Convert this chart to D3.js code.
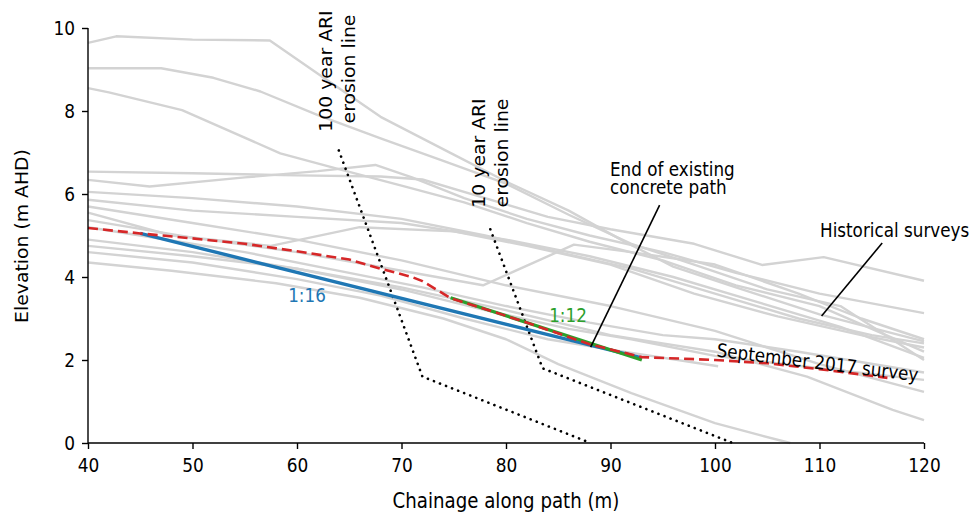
<!DOCTYPE html>
<html><head><meta charset="utf-8">
<script src="https://cdn.jsdelivr.net/npm/d3@7"></script>
<style>
body{margin:0;background:#fff;}
text{font-family:"DejaVu Sans",sans-serif;}
</style></head>
<body><svg id="c" width="971" height="512"></svg>
<script>
const xTicks=[40,50,60,70,80,90,100,110,120];
const yTicks=[0,2,4,6,8,10];
const historical=[
 [[40,9.64],[42.7,9.8],[50,9.72],[57.4,9.7],[62,8.9],[68,7.86],[75,6.95],[80,6.3],[86,5.6],[91,4.9],[96,4.25],[102,3.75],[110,3.1],[120,2.45]],
 [[40,9.03],[47,9.03],[52,8.8],[56.5,8.47],[62,7.9],[68,7.34],[74,6.8],[80,6.25],[86,5.5],[92,4.8],[98,4.3],[105,3.7],[112,3.3],[120,2.0]],
 [[40,8.55],[42,8.45],[49,8.02],[58.4,6.98],[64,6.6],[70,6.2],[76,5.8],[82,5.3],[88,4.85],[95,4.4],[102,3.8],[110,3.3],[120,2.2]],
 [[40,6.54],[50,6.5],[60,6.45],[68,6.42],[72,6.35],[78,5.9],[84,5.45],[90,5.15],[98,4.8],[104.5,4.29],[110.4,4.48],[120,3.91]],
 [[40,6.34],[45.9,6.18],[55,6.4],[62,6.55],[67.5,6.7],[71,6.4],[76,5.9],[82,5.4],[88,5.0],[95,4.6],[102,4.1],[110,3.6],[120,3.13]],
 [[40,6.05],[50,5.9],[60,5.7],[70,5.4],[78,5.0],[85,4.6],[92,4.2],[100,3.6],[108,3.0],[115,2.6],[120,2.4]],
 [[40,5.86],[50,5.6],[60,5.45],[70,5.3],[80,4.9],[88,4.5],[96,4.0],[104,3.4],[112,2.8],[120,2.05]],
 [[40,5.55],[48,5.0],[57.5,4.75],[66,5.2],[75,5.1],[82,4.75],[90,4.3],[98,3.6],[106,3.05],[114,2.6],[120,2.3]],
 [[40,5.37],[50,4.95],[60,4.6],[70,4.15],[77.8,3.8],[86.5,4.78],[92,4.6],[100,4.3],[108,3.6],[114,3.0],[120,2.5]],
 [[40,5.7],[50,5.3],[60,4.9],[70,4.4],[80,3.8],[90,3.3],[100,2.7],[110,1.9],[120,1.23]],
 [[40,5.2],[45,5.0],[55,4.6],[65,4.1],[72,3.75],[80,3.3],[88,2.9],[95,2.6],[100,2.5],[108,2.2],[120,1.7]],
 [[40,4.9],[50,4.6],[60,4.2],[70,3.7],[78,3.2],[86,2.75],[92,2.5],[100,2.1],[110,1.8],[120,1.52]],
 [[40,4.6],[50,4.35],[60,3.95],[68,3.55],[76,3.0],[84,2.5],[90,2.25],[100.3,1.85]],
 [[40,4.35],[48,4.15],[58,3.85],[66,3.5],[74,3.0],[80,2.5],[85,1.9],[92,1.2],[100,0.48],[104.3,0.19],[107.2,0]],
 [[40,4.75],[50,4.5],[60,4.2],[70,3.75],[80,3.2],[90,2.6],[100,2.2],[108.8,1.6],[117,0.8],[120,0.55]]
];
const survey2017=[[40,5.18],[45,5.05],[50,4.93],[55,4.8],[60,4.62],[65,4.42],[68,4.2],[71,4.0],[72,3.9],[74.7,3.49],[81.3,2.96],[88,2.38],[93,2.07],[100,2.0],[105,1.92],[110,1.78],[116.5,1.57]];
const slope16=[[45,5.05],[93,2.05]];
const slope12=[[74.7,3.5],[93,2.0]];
const ari100=[[64,7.05],[72,1.6],[88.1,0]];
const ari10=[[78.5,5.15],[83.5,1.8],[101.7,0]];
const pointerPath=[[94.7,5.73],[88.1,2.31]];
const pointerHist=[[116.0,4.82],[110.2,3.06]];

const svg=d3.select('#c');
const m={l:88,r:924,t:28,b:443};
const x=d3.scaleLinear().domain([40,120]).range([m.l,m.r]);
const y=d3.scaleLinear().domain([0,10]).range([m.b,m.t]);
const line=d3.line().x(d=>x(d[0])).y(d=>y(d[1]));
const SY=1.12;

const g=svg.append('g');
historical.forEach(h=>g.append('path').attr('d',line(h)).attr('fill','none').attr('stroke','#d3d3d3').attr('stroke-width',2.4).attr('stroke-linejoin','round'));

g.append('path').attr('d',line(ari100)).attr('fill','none').attr('stroke','#000').attr('stroke-width',2.6).attr('stroke-dasharray','0.1,6.4').attr('stroke-linecap','round');
g.append('path').attr('d',line(ari10)).attr('fill','none').attr('stroke','#000').attr('stroke-width',2.6).attr('stroke-dasharray','0.1,6.4').attr('stroke-linecap','round');

g.append('path').attr('d',line(slope16)).attr('fill','none').attr('stroke','#1f77b4').attr('stroke-width',3.4);
g.append('path').attr('d',line(slope12)).attr('fill','none').attr('stroke','#2ca02c').attr('stroke-width',3.4);
g.append('path').attr('d',line(survey2017)).attr('fill','none').attr('stroke','#d62728').attr('stroke-width',2.6).attr('stroke-dasharray','10,5');

g.append('path').attr('d',line(pointerPath)).attr('fill','none').attr('stroke','#000').attr('stroke-width',1.6);
g.append('path').attr('d',line(pointerHist)).attr('fill','none').attr('stroke','#000').attr('stroke-width',1.6);

// axes
const fs=16.8;
const xa=svg.append('g').attr('transform',`translate(0,${m.b})`).call(d3.axisBottom(x).tickValues(xTicks).tickSize(6).tickPadding(5));
const ya=svg.append('g').attr('transform',`translate(${m.l},0)`).call(d3.axisLeft(y).tickValues(yTicks).tickSize(6).tickPadding(5));
[xa,ya].forEach(a=>{a.selectAll('path,line').attr('stroke','#000').attr('stroke-width',1.4);a.selectAll('text').attr('font-size',17).attr('fill','#000').attr('font-family','DejaVu Sans');});
xa.selectAll('.tick text').attr('y',0).attr('dy',0).attr('transform',`translate(0,29) scale(1,${SY})`);
ya.selectAll('.tick text').attr('x',0).attr('dy',0).attr('transform',`translate(-13,6.5) scale(1,${SY})`);
xa.select('.domain').attr('d',`M${m.l},0H${m.r}`);
ya.select('.domain').attr('d',`M0,${m.b}V${m.t}`);

function txt(t,px,py,opts={}){
  const e=svg.append('text').attr('x',0).attr('y',0).attr('font-size',opts.fs||fs).attr('fill',opts.fill||'#000')
   .attr('text-anchor',opts.anchor||'start').attr('transform',`translate(${px},${py}) scale(1,${SY}) rotate(${opts.rot||0})`).text(t);
  return e;
}
txt('Chainage along path (m)',506,508,{anchor:'middle',fs:18.2});
txt('Elevation (m AHD)',28,236,{anchor:'middle',rot:-90});
txt('100 year ARI',332,71,{anchor:'middle',rot:-90});
txt('erosion line',355,69,{anchor:'middle',rot:-90});
txt('10 year ARI',485,153,{anchor:'middle',rot:-90});
txt('erosion line',508,153,{anchor:'middle',rot:-90});
txt('End of existing',610,176);
txt('concrete path',610,194);
txt('Historical surveys',820,237);
txt('September 2017 survey',817,369,{anchor:'middle',rot:6.3});
txt('1:16',307,302,{anchor:'middle',fill:'#1f77b4'});
txt('1:12',568,322,{anchor:'middle',fill:'#2ca02c'});
</script></body></html>
